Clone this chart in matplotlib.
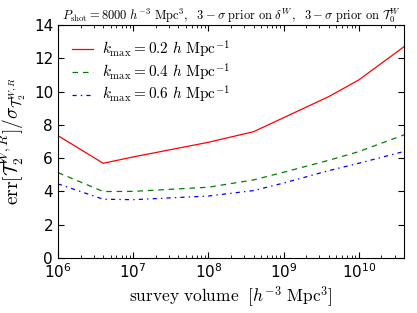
import matplotlib
matplotlib.use("Agg")
import matplotlib.pyplot as plt
import numpy as np

volumes = [1e6, 4e6, 1e7, 1e8, 4e8, 1e9, 4e9, 1e10, 4e10]
err_k02 = [7.35, 5.69, 6.07, 6.95, 7.59, 8.43, 9.70, 10.7, 12.7]
err_k04 = [5.13, 3.99, 4.00, 4.25, 4.69, 5.15, 5.87, 6.39, 7.40]
err_k06 = [4.45, 3.53, 3.50, 3.72, 4.05, 4.50, 5.25, 5.69, 6.40]
labels = [r'$k_{\rm max}=0.2\ h\ {\rm Mpc}^{-1}$',
          r'$k_{\rm max}=0.4\ h\ {\rm Mpc}^{-1}$',
          r'$k_{\rm max}=0.6\ h\ {\rm Mpc}^{-1}$']

plt.rcParams['mathtext.fontset'] = 'cm'
plt.rcParams['xtick.direction'] = 'in'
plt.rcParams['ytick.direction'] = 'in'
plt.rcParams['lines.scale_dashes'] = False

fig = plt.figure(figsize=(4.17, 3.13), dpi=100)
ax = fig.add_axes([0.139, 0.176, 0.830, 0.744])
ax.plot(volumes, err_k02, color='r', ls='-', lw=0.9, label=labels[0])
ax.plot(volumes, err_k04, color='g', ls=(0, (4, 3.5)), lw=0.9, label=labels[1])
ax.plot(volumes, err_k06, color='b', ls=(0, (3, 3, 1, 3)), lw=0.9, label=labels[2])
ax.set_xscale('log')
ax.set_xlim(1e6, 4e10)
ax.set_ylim(0, 14)
ax.set_yticks(np.arange(0, 15, 2))
ax.tick_params(which='both', top=True, right=True, labelsize=11)
ax.tick_params(which='major', length=4)
ax.tick_params(which='minor', length=2)
ax.set_title(r'$P_{\rm shot}=8000\ h^{-3}\ {\rm Mpc}^3,\ \ 3-\sigma\ {\rm prior\ on}\ \delta^W,\ \ 3-\sigma\ {\rm prior\ on}\ \mathcal{T}_0^W$',
             fontsize=9, pad=2)
ax.set_xlabel(r'${\rm survey\ volume}\ \ [h^{-3}\ {\rm Mpc}^3]$', fontsize=12.5, labelpad=2)
ax.set_ylabel(r'${\rm err}[\mathcal{T}_2^{W,R}]/\sigma_{\mathcal{T}_2^{W,R}}$', fontsize=14)
ax.legend(loc='upper left', frameon=False, fontsize=11, handlelength=1.4,
          handletextpad=0.6, labelspacing=0.1, borderaxespad=0.5)
fig.savefig('out.png', dpi=100)
